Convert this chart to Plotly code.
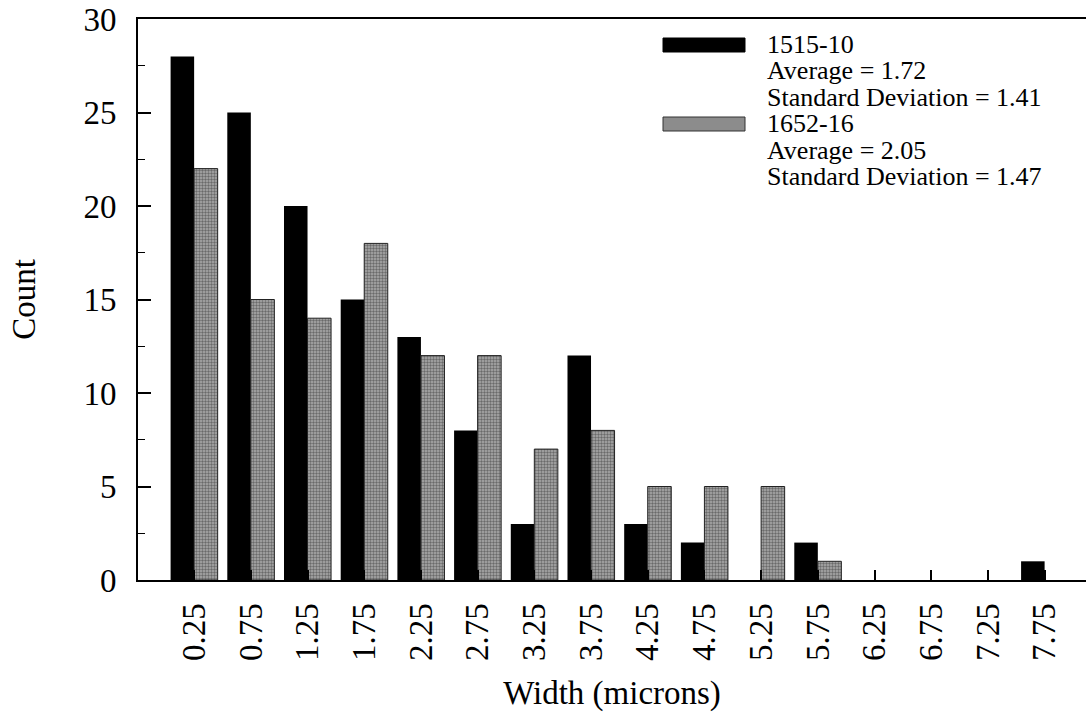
import plotly.graph_objects as go

categories = ["0.25", "0.75", "1.25", "1.75", "2.25", "2.75", "3.25", "3.75",
              "4.25", "4.75", "5.25", "5.75", "6.25", "6.75", "7.25", "7.75"]
counts_1515 = [28, 25, 20, 15, 13, 8, 3, 12, 3, 2, 0, 2, 0, 0, 0, 1]
counts_1652 = [22, 15, 14, 18, 12, 12, 7, 8, 5, 5, 5, 1, 0, 0, 0, 0]
legend_lines_1515 = ["1515-10", "Average = 1.72", "Standard Deviation = 1.41"]
legend_lines_1652 = ["1652-16", "Average = 2.05", "Standard Deviation = 1.47"]

FONT = "Liberation Serif"
W, H = 1086, 717
L, T, B, R = 138, 19, 137, 0
pw, ph = W - L - R, H - T - B

def px(x):
    return (x - L) / pw

def py(y):
    return (H - B - y) / ph

GRAY_FILL = dict(shape=".", size=3, solidity=0.5, fgcolor="#2a2a2a", bgcolor="#ababab")

fig = go.Figure()
fig.add_trace(go.Bar(x=categories, y=counts_1515, name="1515-10",
                     marker=dict(color="black", line=dict(width=0))))
fig.add_trace(go.Bar(x=categories, y=counts_1652, name="1652-16",
                     marker=dict(color="#8c8c8c",
                                 line=dict(color="#222",
                                           width=[1 if v > 0 else 0 for v in counts_1652]),
                                 pattern=GRAY_FILL)))

shapes = [
    dict(type="rect", xref="paper", yref="paper", x0=px(663), x1=px(745), y0=py(52), y1=py(38),
         fillcolor="black", line=dict(color="black", width=1)),
    dict(type="rect", xref="paper", yref="paper", x0=px(663), x1=px(745), y0=py(131), y1=py(117),
         fillcolor="#8c8c8c", line=dict(color="#333", width=1)),
]
legend_text = "<br>".join('<span style="font-size:26px">%s</span>' % s
                          for s in legend_lines_1515 + legend_lines_1652)
annotations = [dict(text=legend_text, xref="paper", yref="paper", x=px(765), y=py(111),
                    xanchor="left", yanchor="middle", align="left", showarrow=False,
                    font=dict(family=FONT, size=20.3, color="black"))]

fig.update_layout(
    width=W, height=H,
    margin=dict(l=L, r=R, t=T, b=B),
    paper_bgcolor="white", plot_bgcolor="white",
    barmode="group", bargap=0.17, bargroupgap=0,
    showlegend=False,
    font=dict(family=FONT, color="black"),
    shapes=shapes, annotations=annotations,
    xaxis=dict(type="category", range=[-0.99, 15.73], showgrid=False, zeroline=False,
               automargin=False,
               showline=True, linecolor="black", linewidth=2, mirror=True,
               ticks="inside", ticklen=10, tickwidth=1.5, tickcolor="black",
               tickangle=-90, tickfont=dict(family=FONT, size=33),
               ticklabelstandoff=8,
               title=dict(text="Width (microns)", font=dict(family=FONT, size=33), standoff=21)),
    yaxis=dict(range=[0, 30], tickvals=[0, 5, 10, 15, 20, 25, 30], showgrid=False, zeroline=False,
               automargin=False, ticklabeloverflow="allow",
               showline=True, linecolor="black", linewidth=2, mirror=False,
               ticks="inside", ticklen=13, tickwidth=1.5, tickcolor="black",
               minor=dict(ticks="inside", ticklen=7, dtick=2.5, tickcolor="black", tickwidth=1),
               tickfont=dict(family=FONT, size=33), ticklabelstandoff=13,
               title=dict(text="Count", font=dict(family=FONT, size=33), standoff=38)),
)

fig.write_html("out.html", config={"displayModeBar": False},
               post_script="document.body.style.margin='0';")
